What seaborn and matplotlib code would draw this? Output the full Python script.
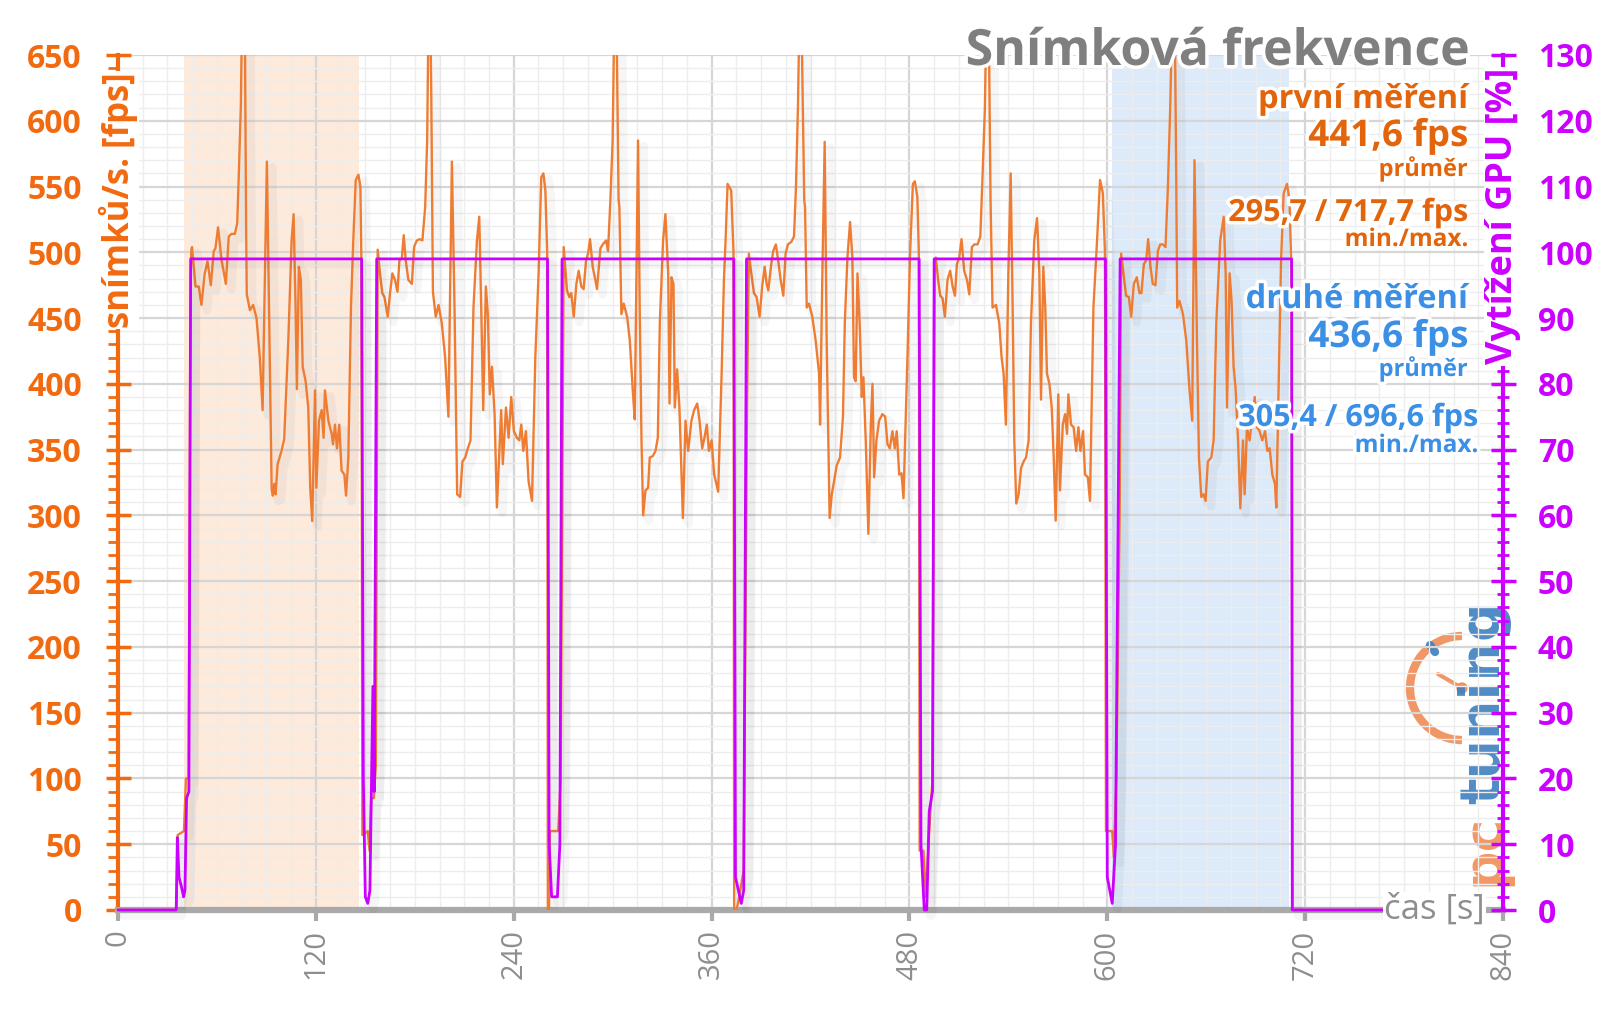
import matplotlib
matplotlib.use("Agg")
import matplotlib.pyplot as plt
import seaborn as sns
import pandas as pd
from matplotlib import patheffects as pe
from matplotlib.patches import Arc, Circle
from matplotlib.lines import Line2D
from matplotlib.ticker import MultipleLocator
from matplotlib.transforms import IdentityTransform

# ---------------- data ----------------
fps_time = [
    0, 35.5, 36.2, 40.0, 41.2, 42.8, 44.0,
    # run 1
    44.5, 44.9, 47.0, 49.0, 50.6, 52.6, 54.3, 56.3, 58.1, 59.1, 60.7, 62.8, 64.0, 65.4, 67.2, 68.8, 70.9,
    72.3, 73.3, 74.5, 75.3, 76.1, 76.9, 77.7, 78.1, 80.0, 82.0, 84.0, 86.0, 87.7, 90.3, 93.2, 93.9, 94.8,
    95.6, 96.8, 99.2, 100.8, 103.3, 105.3, 106.5, 107.7, 108.5, 109.7, 110.9, 112.0, 113.8, 115.4, 116.6,
    117.8, 119.5, 120.3, 121.9, 123.5, 124.7, 125.5, 127.6, 129.6, 130.4, 131.6, 132.8, 134.2, 135.6, 137.3,
    138.3, 139.7, 141.3, 142.7, 144.2, 145.8, 147.0, 147.6,
    # gap 1
    148.2, 151.5, 152.6, 153.6, 155.2, 156.4,
    # run 2
    157.5, 158.9, 160.3, 161.6, 163.6, 165.0, 166.4, 168.0, 169.5, 170.7, 172.1, 173.3, 174.5, 176.1, 178.2,
    179.6, 181.2, 183.0, 184.6, 186.3, 187.5, 188.4, 189.2, 190.0, 191.0, 192.7, 194.4, 196.4, 198.4, 200.4,
    202.5, 204.1, 205.7, 207.5, 208.9, 210.6, 212.2, 213.8, 215.6, 217.7, 219.1, 220.3, 221.5, 223.1, 224.3,
    225.5, 226.8, 228.4, 229.8, 232.4, 233.4, 235.3, 236.9, 238.5, 240.1, 241.9, 243.4, 244.6, 245.8, 247.4,
    249.0, 251.1, 253.1, 255.1, 256.7, 258.0, 259.2, 260.3,
    # gap 2
    260.7, 261.4, 261.9, 265.5, 267.0, 268.5,
    # run 3
    270.3, 272.3, 273.7, 274.9, 276.4, 278.0, 279.4, 281.0, 282.4, 283.9, 285.1, 286.3, 287.9, 289.5, 290.5,
    292.6, 294.0, 296.0, 297.2, 298.6, 300.0, 301.0, 301.8, 302.6, 303.6, 304.1, 305.3, 306.7, 308.8, 310.4,
    312.2, 313.4, 314.2, 315.4, 316.4, 317.5, 318.5, 319.9, 321.5, 322.5, 324.3, 326.0, 327.4, 328.6, 330.6,
    332.0, 333.7, 334.5, 335.7, 336.9, 337.7, 339.1, 340.5, 342.6, 344.2, 345.8, 347.8, 349.4, 351.3, 352.7,
    354.3, 355.7, 357.1, 358.4, 360.0, 361.6, 364.0, 366.1, 367.5, 368.5, 369.7, 371.9, 373.3,
    # gap 3
    373.7, 375.0, 376.0, 379.5, 381.5,
    # run 4
    382.6, 384.1, 385.7, 387.3, 389.1, 390.7, 392.2, 393.4, 394.4, 396.2, 397.4, 399.0, 400.7, 401.9, 403.5,
    404.9, 406.3, 408.4, 410.0, 411.2, 412.4, 413.4, 414.2, 415.0, 416.2, 416.7, 417.7, 419.1, 421.1, 423.1,
    425.2, 425.8, 427.2, 428.6, 429.8, 431.6, 432.9, 434.3, 435.9, 437.9, 439.7, 440.8, 442.4, 444.0, 445.4,
    446.4, 447.4, 448.5, 449.9, 451.1, 452.1, 453.5, 455.1, 456.6, 457.6, 458.6, 460.0, 461.6, 463.6, 465.3,
    466.7, 468.1, 469.7, 471.1, 472.3, 473.8, 475.2, 476.4, 478.8, 480.4, 482.1, 483.3, 484.8, 485.7,
    # gap 4
    486.2, 488.5, 490.0, 492.0, 494.0, 495.3,
    # run 5
    496.0, 497.4, 498.7, 500.1, 501.5, 503.1, 504.7, 506.2, 507.6, 508.8, 510.2, 511.6, 513.2, 514.9, 516.3,
    517.9, 519.3, 521.3, 523.0, 524.4, 525.8, 526.8, 527.6, 528.4, 529.2, 530.4, 532.5, 534.5, 535.9, 537.1,
    538.5, 540.0, 541.4, 542.6, 543.6, 544.8, 546.2, 547.7, 549.3, 550.7, 552.3, 553.7, 555.7, 557.4, 558.8,
    559.8, 561.2, 562.4, 563.4, 564.9, 566.3, 567.5, 568.7, 570.3, 571.3, 573.0, 574.4, 575.6, 576.4, 578.0,
    579.6, 581.1, 582.5, 583.7, 585.3, 586.5, 588.2, 589.5, 591.6, 593.8, 595.6, 597.3, 598.6,
    # gap 5
    599.2, 603.0, 604.0, 605.5, 607.5,
    # run 6
    608.4, 609.8, 611.4, 613.1, 614.5, 616.1, 617.9, 619.5, 620.7, 622.2, 623.6, 624.8, 626.2, 627.6, 629.2,
    630.7, 632.1, 633.7, 635.3, 636.7, 638.2, 639.3, 640.2, 641.0, 641.8, 642.4, 643.8, 645.9, 647.9, 649.9,
    651.5, 652.9, 654.4, 655.6, 657.0, 658.4, 659.6, 661.0, 663.1, 664.5, 666.1, 668.5, 670.6, 671.8, 672.6,
    674.2, 675.4, 676.6, 677.8, 679.3, 680.7, 682.3, 683.3, 684.7, 686.3, 688.0, 689.4, 690.8, 692.4, 694.0,
    695.7, 697.1, 698.5, 700.1, 701.7, 702.5, 705.4, 707.0, 709.0, 710.5, 711.8,
    # end
    712.3, 768.0,
]
fps_value = [
    0, 0, 57, 60, 100, 100, 480,
    502, 504, 474, 474, 460, 484, 493, 475, 501, 503, 519, 494, 486, 476, 512, 514, 514,
    522, 560, 611, 690, 717.7, 680, 520, 468, 456, 460, 450, 420, 380, 569, 320, 315, 324,
    316, 339, 349, 358, 433, 509, 529, 458, 396, 489, 479, 413, 402, 382, 321,
    295.7, 395, 321, 372, 380, 359, 395, 372, 362, 354, 369, 351, 369, 334, 331,
    315, 344, 458, 509, 555, 559, 550, 496,
    57, 60, 45, 85, 85, 110,
    502, 484, 469, 466, 451, 469, 484, 479, 470, 494, 495, 513, 494, 479, 476,
    504, 509, 510, 509, 534, 585, 690, 700, 620, 470, 451, 460, 446, 420, 375,
    569, 458, 316, 314, 341, 344, 351, 357, 458, 509, 527, 458, 380, 474, 453,
    392, 413, 377, 306, 380, 339, 382, 359, 390, 364, 359, 357, 369, 349, 364,
    326, 311, 420, 484, 557, 560, 547, 500,
    0, 0, 60, 60, 60, 100,
    504, 471, 466, 469, 451, 476, 486, 474, 472, 494, 499, 510, 489, 479, 472,
    503, 506, 509, 501, 539, 585, 680, 710, 650, 540, 534, 453, 461, 451, 433,
    395, 373, 458, 585, 458, 357, 300, 319, 321, 344, 345, 349, 359, 446, 509,
    529, 484, 385, 481, 476, 382, 411, 382, 298, 372, 349, 372, 380, 385, 372,
    351, 359, 369, 349, 357, 331, 318, 408, 479, 509, 552, 547, 500,
    0, 0, 5, 30, 380,
    499, 484, 469, 466, 451, 474, 489, 476, 471, 491, 501, 506, 491, 479, 467,
    499, 506, 508, 512, 550, 611, 690, 705, 640, 540, 534, 458, 461, 451, 433,
    408, 369, 484, 584, 433, 298, 316, 326, 338, 344, 375, 446, 496, 523, 496,
    405, 402, 484, 443, 390, 405, 357, 286, 369, 400, 329, 357, 372, 377, 375,
    354, 351, 364, 351, 364, 331, 332, 313, 420, 499, 552, 554, 542, 500,
    45, 45, 10, 60, 100, 490,
    496, 479, 467, 465, 451, 479, 486, 474, 467, 491, 496, 510, 486, 479, 468,
    504, 506, 506, 512, 560, 611, 690, 700, 640, 540, 458, 460, 446, 420, 408,
    369, 484, 560, 458, 357, 309, 316, 336, 341, 344, 357, 446, 509, 526, 484,
    388, 489, 458, 408, 400, 382, 344, 296, 392, 319, 369, 377, 362, 392, 369,
    367, 349, 367, 349, 364, 331, 329, 311, 458, 509, 555, 545, 500,
    60, 60, 40, 100, 300,
    499, 484, 467, 466, 451, 476, 481, 469, 469, 491, 494, 510, 489, 476, 475,
    501, 506, 506, 504, 547, 611, 680, 696.6, 670, 560, 458, 463, 453, 433, 395,
    372, 570, 433, 344, 314, 316, 311, 341, 344, 357, 446, 509, 527, 484, 382,
    484, 463, 413, 397, 357, 305.4, 357, 316, 367, 357, 375, 390, 367, 364, 357,
    364, 349, 351, 331, 324, 306, 494, 545, 552, 540, 480,
    0, 0,
]

gpu_time = [0, 35.3, 36.0, 37.0, 38.5, 39.8, 40.6, 41.6, 43.0, 44.1,
            147.8, 148.8, 150.0, 151.5, 152.8, 153.6, 154.6, 155.4, 156.9,
            260.5, 261.5, 263.0, 266.5, 268.0, 269.3,
            373.5, 374.5, 378.0, 379.5, 381.2,
            485.9, 487.0, 489.0, 490.5, 492.0, 494.0, 495.0,
            598.9, 600.0, 603.0, 605.0, 607.8,
            711.8, 712.2, 768.0]
gpu_value = [0, 0, 11, 5, 3.5, 2, 3, 17, 18, 99,
             99, 20, 2, 1, 3, 17, 34, 18, 99,
             99, 10, 2, 2, 10, 99,
             99, 5, 1, 3, 99,
             99, 10, 0, 0, 15, 18, 99,
             99, 5, 1, 10, 99,
             99, 0, 0]

time_ticks = [0, 120, 240, 360, 480, 600, 720, 840]
fps_ticks = [0, 50, 100, 150, 200, 250, 300, 350, 400, 450, 500, 550, 600, 650]
gpu_ticks = [0, 10, 20, 30, 40, 50, 60, 70, 80, 90, 100, 110, 120, 130]
first_run_span = [40, 146]
second_run_span = [603, 710]

title_text = "Snímková frekvence"
x_label = "čas [s]"
y_label_left = "snímků/s. [fps]"
y_label_right = "Vytížení GPU [%]"
first_texts = ["první měření", "441,6 fps", "průměr", "295,7 / 717,7 fps", "min./max."]
second_texts = ["druhé měření", "436,6 fps", "průměr", "305,4 / 696,6 fps", "min./max."]

assert len(fps_time) == len(fps_value)
assert len(gpu_time) == len(gpu_value)

# ---------------- style ----------------
sns.set_theme(style="white")
plt.rcParams["font.family"] = ["Open Sans", "DejaVu Sans"]

ORANGE_LINE = "#ee7d33"
ORANGE_AX = "#f26a10"
ORANGE_TXT = "#e2650b"
MAGENTA = "#cc00ff"
BLUE = "#3b8fe5"
GRAY = "#8e8e8e"
AXGRAY = "#a9a9a9"

W, H = 1600, 1009
fig = plt.figure(figsize=(16, 10.09), dpi=100)
fig.patch.set_facecolor("white")
L, R, T, B = 118, 1503, 55, 910
ax = fig.add_axes([L / W, 1 - B / H, (R - L) / W, (B - T) / H])
ax2 = ax.twinx()
ax.patch.set_alpha(0)
ax2.patch.set_alpha(0)

# highlighted measurement windows
ax.axvspan(*first_run_span, color="#fdeadb", lw=0, zorder=0.2)
ax.axvspan(*second_run_span, color="#dceafa", lw=0, zorder=0.2)

# grid
ax.set_axisbelow(True)
ax.set_xlim(0, 840)
ax.set_ylim(0, 650)
ax2.set_ylim(0, 130)
ax.set_xticks(time_ticks)
ax.set_xticklabels([str(v) for v in time_ticks], rotation=90, color=GRAY, fontsize=21)
ax.xaxis.set_minor_locator(MultipleLocator(15))
ax.set_yticks(fps_ticks)
ax.set_yticklabels([str(v) for v in fps_ticks], fontweight="bold", fontsize=23)
ax.yaxis.set_minor_locator(MultipleLocator(10))
ax2.set_yticks(gpu_ticks)
ax2.set_yticklabels([str(v) for v in gpu_ticks], fontweight="bold", fontsize=23)
ax2.yaxis.set_minor_locator(MultipleLocator(2))

ax.grid(which="major", color="#d6d6d6", lw=1.6)
ax.grid(which="minor", color="#ededed", lw=1.0)
ax2.grid(False)

# lines
shadow = [pe.SimpleLineShadow(offset=(4, -4), shadow_color="black", alpha=0.035, linewidth=6), pe.Normal()]
df_fps = pd.DataFrame({"t": fps_time, "fps": fps_value})
df_gpu = pd.DataFrame({"t": gpu_time, "gpu": gpu_value})
sns.lineplot(data=df_fps, x="t", y="fps", ax=ax, color=ORANGE_LINE, lw=1.7,
             sort=False, estimator=None, zorder=3)
ax.lines[-1].set_path_effects(shadow)
sns.lineplot(data=df_gpu, x="t", y="gpu", ax=ax2, color=MAGENTA, lw=2.0,
             sort=False, estimator=None, zorder=3)
ax2.lines[-1].set_path_effects(shadow)
ax2.lines[-1].set_clip_on(False)
ax.set_xlabel("")
ax.set_ylabel("")
ax2.set_ylabel("")

# spines & ticks
for s in ["top", "right"]:
    ax.spines[s].set_visible(False)
for s in ["top", "left", "bottom"]:
    ax2.spines[s].set_visible(False)
ax.spines["left"].set_color(ORANGE_AX)
ax.spines["left"].set_linewidth(3)
ax.spines["bottom"].set_color(AXGRAY)
ax.spines["bottom"].set_linewidth(4.5)
ax2.spines["right"].set_color(MAGENTA)
ax2.spines["right"].set_linewidth(3)

ax.tick_params(axis="y", which="major", direction="inout", length=18, width=2.5,
               colors=ORANGE_AX, pad=17, left=True)
ax.tick_params(axis="y", which="minor", direction="out", length=7, width=2,
               color=ORANGE_AX, left=True)
ax.tick_params(axis="x", which="major", direction="out", length=8, width=3,
               color=AXGRAY, labelcolor=GRAY, pad=6, bottom=True)
ax.tick_params(axis="x", which="minor", length=0)
ax2.tick_params(axis="y", which="major", direction="inout", length=18, width=2.5,
                colors=MAGENTA, pad=16, right=True)
ax2.tick_params(axis="y", which="minor", direction="inout", length=9, width=2,
                color=MAGENTA, right=True)

# ---------------- texts ----------------
halo = [pe.withStroke(linewidth=5, foreground="white")]

def fx(x):
    return x / W

def fy(y):
    return 1 - y / H

fig.text(fx(L), fy(72), y_label_left, rotation=90, ha="center", va="top",
         fontsize=25, fontweight="bold", color=ORANGE_AX, zorder=10,
         bbox=dict(facecolor="white", edgecolor="none", pad=1))
fig.text(fx(R), fy(68), y_label_right, rotation=90, ha="center", va="top",
         fontsize=26, fontweight="bold", color=MAGENTA, zorder=10,
         bbox=dict(facecolor="white", edgecolor="none", pad=1))
fig.text(fx(1485), fy(B), x_label, ha="right", va="center", fontsize=25,
         color=GRAY, zorder=10, bbox=dict(facecolor="white", edgecolor="none", pad=1))

fig.text(fx(1470), fy(65), title_text, ha="right", va="baseline", fontsize=36,
         fontweight="bold", color="#7f7f7f", zorder=10, path_effects=halo)

first_specs = [(108, 23.5), (146, 26.5), (176, 17), (221, 22), (246, 17.5)]
for s, (yb, fs) in zip(first_texts, first_specs):
    fig.text(fx(1468), fy(yb), s, ha="right", va="baseline", fontsize=fs,
             fontweight="bold", color=ORANGE_TXT, zorder=10, path_effects=halo)
second_specs = [(308, 23.5, 1468), (347, 26.5, 1468), (376, 17, 1468), (426, 22, 1478), (452, 17.5, 1478)]
for s, (yb, fs, xr) in zip(second_texts, second_specs):
    fig.text(fx(xr), fy(yb), s, ha="right", va="baseline", fontsize=fs,
             fontweight="bold", color=BLUE, zorder=10, path_effects=halo)

# ---------------- logo ----------------
LOGO_OR = "#f08c55"
LOGO_BL = "#3d7fc0"
fig.text(fx(1484), fy(702), "tuning", rotation=90, ha="center", va="center",
         fontsize=40, fontweight="bold", color=LOGO_BL, alpha=0.9,
         family="DejaVu Sans", zorder=-1)
fig.text(fx(1484), fy(850), "pc", rotation=90, ha="center", va="center",
         fontsize=40, fontweight="bold", color=LOGO_OR, alpha=0.9,
         family="DejaVu Sans", zorder=-1)
cx, cy = 1462, H - 688
fig.add_artist(Arc((cx, cy), 104, 104, theta1=90, theta2=270, transform=IdentityTransform(),
                   color=LOGO_OR, lw=6, alpha=0.9, zorder=-1))
fig.add_artist(Line2D([cx, cx - 24], [cy, cy + 14], transform=IdentityTransform(),
                      color=LOGO_OR, lw=3, alpha=0.9, zorder=-1))
fig.add_artist(Circle((cx, cy), 5, transform=IdentityTransform(), color=LOGO_OR, alpha=0.9, zorder=-1))
fig.add_artist(Line2D([cx - 27, cx - 32], [cy + 36, cy + 43], transform=IdentityTransform(),
                      color=LOGO_BL, lw=6, alpha=0.9, zorder=-1))

fig.savefig("out.png", dpi=100, facecolor="white")
